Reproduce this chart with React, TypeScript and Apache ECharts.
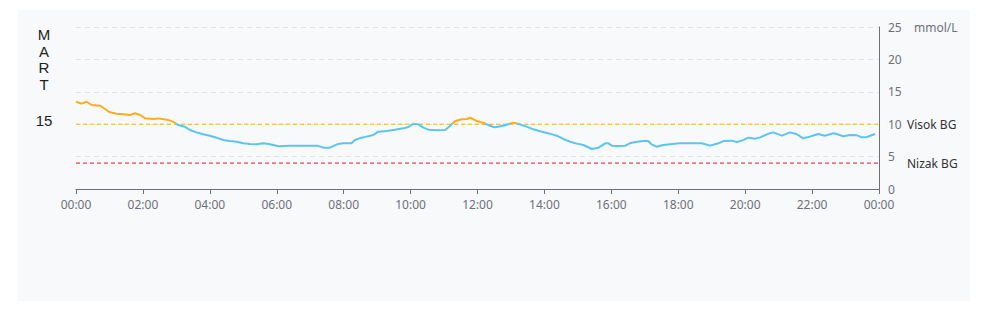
import React, { useEffect, useRef } from "react";
import * as echarts from "echarts";

const times = [
  "00:00", "00:10", "00:19", "00:28", "00:43", "00:52", "01:01", "01:13", "01:25", "01:37",
  "01:46", "01:55", "02:04", "02:19", "02:28", "02:43", "02:54", "03:03", "03:15", "03:24",
  "03:36", "03:48", "04:00", "04:12", "04:24", "04:36", "04:48", "05:00", "05:12", "05:24",
  "05:36", "05:48", "06:03", "06:24", "06:48", "07:12", "07:24", "07:35", "07:48", "07:59",
  "08:14", "08:20", "08:32", "08:41", "08:53", "09:02", "09:17", "09:32", "09:47", "09:56",
  "10:05", "10:14", "10:23", "10:32", "10:47", "11:02", "11:11", "11:20", "11:32", "11:41",
  "11:47", "11:59", "12:11", "12:22", "12:31", "12:46", "13:04", "13:16", "13:28", "13:40",
  "13:52", "14:10", "14:22", "14:34", "14:46", "14:58", "15:10", "15:25", "15:37", "15:49",
  "15:55", "16:01", "16:13", "16:25", "16:33", "16:46", "16:57", "17:06", "17:12", "17:21",
  "17:33", "17:45", "18:03", "18:15", "18:42", "18:57", "19:12", "19:21", "19:36", "19:45",
  "19:54", "20:06", "20:18", "20:27", "20:42", "20:50", "21:06", "21:20", "21:32", "21:44",
  "21:56", "22:11", "22:23", "22:38", "22:44", "22:56", "23:08", "23:20", "23:29", "23:38",
  "23:53",
];

const glucose = [
  13.47, 13.17, 13.47, 12.96, 12.86, 12.35, 11.83, 11.62, 11.52, 11.42,
  11.68, 11.42, 10.9, 10.8, 10.9, 10.7, 10.39, 9.88, 9.62, 9.1,
  8.74, 8.44, 8.23, 7.92, 7.56, 7.4, 7.3, 7.05, 6.94, 6.9,
  7.05, 6.9, 6.6, 6.69, 6.69, 6.69, 6.38, 6.38, 6.9, 7.05,
  7.05, 7.56, 7.92, 8.08, 8.33, 8.85, 8.95, 9.16, 9.36, 9.57,
  10.08, 9.98, 9.47, 9.16, 9.05, 9.1, 9.77, 10.49, 10.75, 10.8,
  11.0, 10.49, 10.19, 9.77, 9.52, 9.77, 10.24, 9.98, 9.62, 9.21,
  8.9, 8.54, 8.23, 7.72, 7.3, 7.0, 6.79, 6.17, 6.38, 7.05,
  7.05, 6.69, 6.64, 6.69, 7.05, 7.3, 7.4, 7.4, 6.9, 6.53,
  6.79, 6.9, 7.05, 7.05, 7.05, 6.69, 7.05, 7.4, 7.46, 7.25,
  7.46, 7.92, 7.77, 7.97, 8.54, 8.74, 8.23, 8.74, 8.49, 7.82,
  8.08, 8.49, 8.23, 8.59, 8.49, 8.13, 8.33, 8.28, 8.0, 8.03,
  8.49,
];

const highLimit = 10;
const lowLimit = 4;
const yMin = 0;
const yMax = 25;
const highLabel = "Visok BG";
const lowLabel = "Nizak BG";
const unit = "mmol/L";
const monthLetters = ["M", "A", "R", "T"];
const dayLabel = "15";
const dayStart = "00:00";
const dayEnd = "24:00";

const toMinutes = (t: string) => {
  const [h, m] = t.split(":").map(Number);
  return h * 60 + m;
};
const pad = (n: number) => (n < 10 ? "0" + n : "" + n);

export default function App() {
  const ref = useRef<HTMLDivElement>(null);
  useEffect(() => {
    if (!ref.current) return;
    const chart = echarts.init(ref.current, undefined, { renderer: "svg" });
    const font = "'Noto Sans', sans-serif";
    const data = times.map((t, i) => [toMinutes(t), glucose[i]]);
    const x0 = toMinutes(dayStart);
    const x1 = toMinutes(dayEnd);
    const limitSeries = (value: number, color: string, label: string) => ({
      type: "line",
      data: [
        [x0, value],
        [x1, value],
      ],
      showSymbol: false,
      symbol: "none",
      silent: true,
      z: 1,
      lineStyle: { color, width: 1, type: [4, 3] },
      endLabel: {
        show: true,
        formatter: label,
        distance: 28,
        color: "#333",
        fontSize: 12,
        fontFamily: font,
      },
    });
    chart.setOption({
      animation: false,
      backgroundColor: "#ffffff",
      graphic: [
        {
          type: "rect",
          z: -10,
          shape: { x: 18, y: 10, width: 952, height: 291 },
          style: { fill: "#f8f9fb" },
          silent: true,
        },
        {
          type: "text",
          x: 44,
          y: 26,
          style: {
            text: monthLetters.join("\n"),
            fill: "#222",
            font: "15px 'Liberation Sans', Arial, sans-serif",
            lineHeight: 16.7,
            align: "center",
            verticalAlign: "top",
          },
        },
        {
          type: "text",
          x: 44,
          y: 120,
          style: {
            text: dayLabel,
            fill: "#222",
            font: "15px 'Liberation Sans', Arial, sans-serif",
            align: "center",
            verticalAlign: "middle",
          },
        },
        {
          type: "text",
          x: 914,
          y: 27,
          style: {
            text: unit,
            fill: "#6e7079",
            font: "12px " + font,
            align: "left",
            verticalAlign: "middle",
          },
        },
      ],
      grid: { left: 76, right: 110, top: 27, bottom: 129 },
      visualMap: {
        show: false,
        seriesIndex: 0,
        dimension: 1,
        pieces: [
          { gte: yMin, lte: highLimit, color: "#5bc5ef" },
          { gt: highLimit, lte: yMax, color: "#fcad1c" },
        ],
        outOfRange: { color: "#5bc5ef" },
      },
      xAxis: {
        type: "value",
        min: x0,
        max: x1,
        interval: 120,
        splitLine: { show: false },
        axisLine: { onZero: false, lineStyle: { color: "#6e7079" } },
        axisTick: { show: true, length: 5, lineStyle: { color: "#6e7079" } },
        axisLabel: {
          color: "#6e7079",
          fontSize: 12,
          fontFamily: font,
          margin: 9,
          lineHeight: 12,
          formatter: (v: number) => pad(Math.floor(v / 60) % 24) + ":00",
        },
      },
      yAxis: {
        type: "value",
        position: "right",
        min: yMin,
        max: yMax,
        interval: 5,
        axisLine: { show: true, onZero: false, lineStyle: { color: "#6e7079" } },
        axisTick: { show: false },
        axisLabel: {
          color: "#6e7079",
          fontSize: 12,
          fontFamily: font,
          margin: 9,
          lineHeight: 12,
        },
        splitLine: { lineStyle: { color: "#e0e3e8", type: [5, 4] } },
      },
      series: [
        {
          type: "line",
          data,
          showSymbol: false,
          symbol: "none",
          z: 3,
          lineStyle: { width: 2 },
        },
        limitSeries(highLimit, "#fcad1c", highLabel),
        limitSeries(lowLimit, "#e8141b", lowLabel),
      ],
    });
    return () => chart.dispose();
  }, []);
  return (
    <div
      ref={ref}
      style={{ position: "fixed", left: 0, top: 0, width: 989, height: 318 }}
    />
  );
}
